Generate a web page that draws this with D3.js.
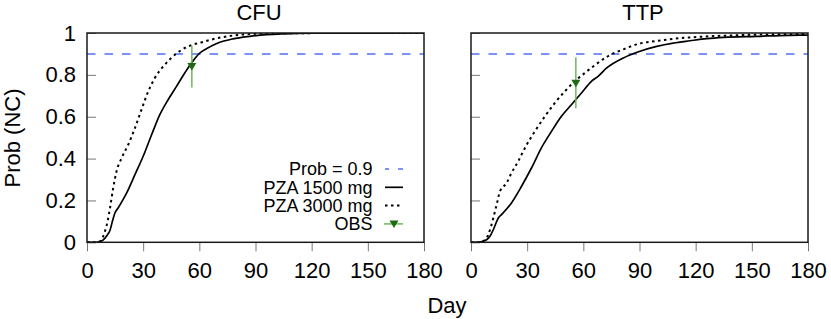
<!DOCTYPE html>
<html>
<head>
<meta charset="utf-8">
<script src="https://cdn.jsdelivr.net/npm/d3@7"></script>
<style>
  body { margin: 0; background: #fff; }
  svg { display: block; font-family: "Liberation Sans", Helvetica, Arial, sans-serif; }
</style>
</head>
<body>
<svg id="chart"></svg>
<script>
// data: [day, probability of negative culture]
const cfu1500 = [[0,0],[5,0],[7,0.004],[8.7,0.012],[10.5,0.03],[12.3,0.058],[13.8,0.108],[14.9,0.14],[16.7,0.165],[19,0.2],[21.2,0.236],[25.6,0.323],[30,0.411],[34.5,0.514],[38.9,0.61],[43.3,0.681],[47.8,0.745],[52.2,0.809],[55.8,0.857],[60.2,0.904],[64,0.926],[69,0.949],[78,0.972],[87,0.984],[96,0.992],[105,0.996],[120,0.999],[180,1]];
const cfu3000 = [[0,0],[5,0],[6.9,0.005],[8.5,0.025],[9.6,0.053],[11,0.1],[12.3,0.164],[14,0.26],[15.8,0.34],[18.5,0.403],[22,0.466],[25.6,0.546],[29.1,0.634],[32.7,0.721],[36.2,0.785],[41.6,0.849],[46.9,0.896],[54,0.936],[61,0.955],[69,0.974],[78,0.988],[87,0.995],[100,0.999],[180,1]];
const ttp1500 = [[0,0],[4,0],[6,0.004],[8.3,0.012],[10.2,0.03],[11.9,0.06],[13.5,0.095],[14.6,0.116],[16.3,0.132],[21.6,0.188],[27,0.268],[32.3,0.355],[37.6,0.451],[43,0.53],[48.3,0.602],[53.6,0.657],[59,0.713],[64.3,0.769],[67.9,0.793],[72.5,0.833],[81.4,0.881],[90.3,0.913],[99.2,0.936],[108,0.952],[117,0.963],[126,0.973],[135,0.979],[152.5,0.984],[170,0.989],[180,0.99]];
const ttp3000 = [[0,0],[5,0],[6.6,0.005],[9.2,0.036],[10.5,0.07],[11.9,0.116],[13.7,0.18],[15.5,0.244],[19,0.283],[21.6,0.331],[25.2,0.387],[28.8,0.451],[34.1,0.53],[39.5,0.602],[44.8,0.666],[50.1,0.721],[55.4,0.769],[60.8,0.809],[66.1,0.846],[72.5,0.886],[81.4,0.922],[90.3,0.95],[99.2,0.962],[108,0.972],[117,0.979],[134.7,0.987],[152.5,0.992],[180,0.995]];
// observed: day, mean, lower, upper
const obsCFU = [{day: 56, p: 0.84, lo: 0.74, hi: 0.94}];
const obsTTP = [{day: 56, p: 0.76, lo: 0.64, hi: 0.884}];
const target = 0.9;
const xTicks = [0, 30, 60, 90, 120, 150, 180];
const yTicks = [0, 0.2, 0.4, 0.6, 0.8, 1];
const legendLabels = ["Prob = 0.9", "PZA 1500 mg", "PZA 3000 mg", "OBS"];

const panels = [
  {title: "CFU", low: cfu1500, high: cfu3000, obs: obsCFU, x0: 87, x1: 424, labels: true},
  {title: "TTP", low: ttp1500, high: ttp3000, obs: obsTTP, x0: 471, x1: 808, labels: false}
];

const width = 831, height = 319;
const yTop = 33, yBottom = 242.3;
const blue = "#4f70f2", green = "#1d6c10", lightGreen = "#6cb85c";

const svg = d3.select("#chart")
  .attr("width", width)
  .attr("height", height)
  .attr("viewBox", [0, 0, width, height]);

const y = d3.scaleLinear().domain([0, 1]).range([yBottom, yTop]);

// downward triangle marker
const tri = s => `M${-s},${-s * 0.75}L${s},${-s * 0.75}L0,${s * 0.9}Z`;

panels.forEach((P, i) => {
  const x = d3.scaleLinear().domain([0, 180]).range([P.x0, P.x1]);
  const line = d3.line().x(d => x(d[0])).y(d => y(d[1])).curve(d3.curveMonotoneX);
  const g = svg.append("g");

  g.append("clipPath").attr("id", "clip" + i)
    .append("rect")
    .attr("x", P.x0).attr("y", yTop)
    .attr("width", P.x1 - P.x0).attr("height", yBottom - yTop);

  // x axis, ticks outward
  g.append("g")
    .attr("transform", `translate(0,${yBottom})`)
    .call(d3.axisBottom(x).tickValues(xTicks).tickSize(9).tickPadding(10.7))
    .call(a => a.select(".domain").remove())
    .call(a => a.selectAll("line").attr("stroke", "#777").attr("stroke-width", 1))
    .call(a => a.selectAll("text").attr("font-size", 22).attr("fill", "#000"));

  // y axis, ticks inward
  g.append("g")
    .attr("transform", `translate(${P.x0},0)`)
    .call(d3.axisLeft(y).tickValues(yTicks).tickSize(-9).tickPadding(11)
      .tickFormat(P.labels ? d3.format("") : ""))
    .call(a => a.select(".domain").remove())
    .call(a => a.selectAll("line").attr("stroke", "#777").attr("stroke-width", 1))
    .call(a => a.selectAll("text").attr("font-size", 22).attr("fill", "#000"));

  const plot = g.append("g").attr("clip-path", `url(#clip${i})`);

  plot.append("line")
    .attr("x1", P.x0).attr("x2", P.x1)
    .attr("y1", y(target)).attr("y2", y(target))
    .attr("stroke", blue).attr("stroke-width", 1.6)
    .attr("stroke-dasharray", "8.5,9");

  plot.append("path")
    .datum(P.high)
    .attr("d", line)
    .attr("fill", "none").attr("stroke", "#000")
    .attr("stroke-width", 2).attr("stroke-dasharray", "2.5,3.5");

  plot.append("path")
    .datum(P.low)
    .attr("d", line)
    .attr("fill", "none").attr("stroke", "#000")
    .attr("stroke-width", 1.7);

  const o = plot.selectAll(".obs").data(P.obs).join("g").attr("class", "obs");
  o.append("line")
    .attr("x1", d => x(d.day)).attr("x2", d => x(d.day))
    .attr("y1", d => y(d.lo)).attr("y2", d => y(d.hi))
    .attr("stroke", lightGreen).attr("stroke-width", 1.5);
  o.append("path")
    .attr("transform", d => `translate(${x(d.day)},${y(d.p)})`)
    .attr("d", tri(4.5))
    .attr("fill", green);

  // frame
  g.append("rect")
    .attr("x", P.x0).attr("y", yTop)
    .attr("width", P.x1 - P.x0).attr("height", yBottom - yTop)
    .attr("fill", "none").attr("stroke", "#1a1a1a").attr("stroke-width", 1.5);

  g.append("text")
    .attr("x", (P.x0 + P.x1) / 2 + 3.5).attr("y", 19.5)
    .attr("text-anchor", "middle").attr("font-size", 22)
    .text(P.title);
});

// axis titles
svg.append("text")
  .attr("x", 447).attr("y", 313)
  .attr("text-anchor", "middle").attr("font-size", 22)
  .text("Day");

svg.append("text")
  .attr("transform", "translate(19.5,138) rotate(-90)")
  .attr("text-anchor", "middle").attr("font-size", 22)
  .text("Prob (NC)");

// legend in left panel
const legend = svg.append("g")
  .selectAll("g")
  .data(legendLabels)
  .join("g")
  .attr("transform", (d, i) => `translate(0,${169 + i * 18.3})`);

legend.append("text")
  .attr("x", 372.5).attr("dy", "0.355em")
  .attr("text-anchor", "end").attr("font-size", 18)
  .text(d => d);

legend.each(function(d, i) {
  const l = d3.select(this);
  if (i === 0) l.append("line").attr("x1", 385).attr("x2", 403)
    .attr("stroke", blue).attr("stroke-width", 1.6)
    .attr("stroke-dasharray", "8.5,9").attr("stroke-dashoffset", 4.5);
  if (i === 1) l.append("line").attr("x1", 385).attr("x2", 403)
    .attr("stroke", "#000").attr("stroke-width", 1.7);
  if (i === 2) l.append("line").attr("x1", 385).attr("x2", 403)
    .attr("stroke", "#000").attr("stroke-width", 2).attr("stroke-dasharray", "2.5,3.5");
  if (i === 3) {
    l.append("line").attr("x1", 384).attr("x2", 403)
      .attr("stroke", lightGreen).attr("stroke-width", 1.5);
    l.append("path").attr("transform", "translate(394,0)").attr("d", tri(4.5)).attr("fill", green);
  }
});
</script>
</body>
</html>
